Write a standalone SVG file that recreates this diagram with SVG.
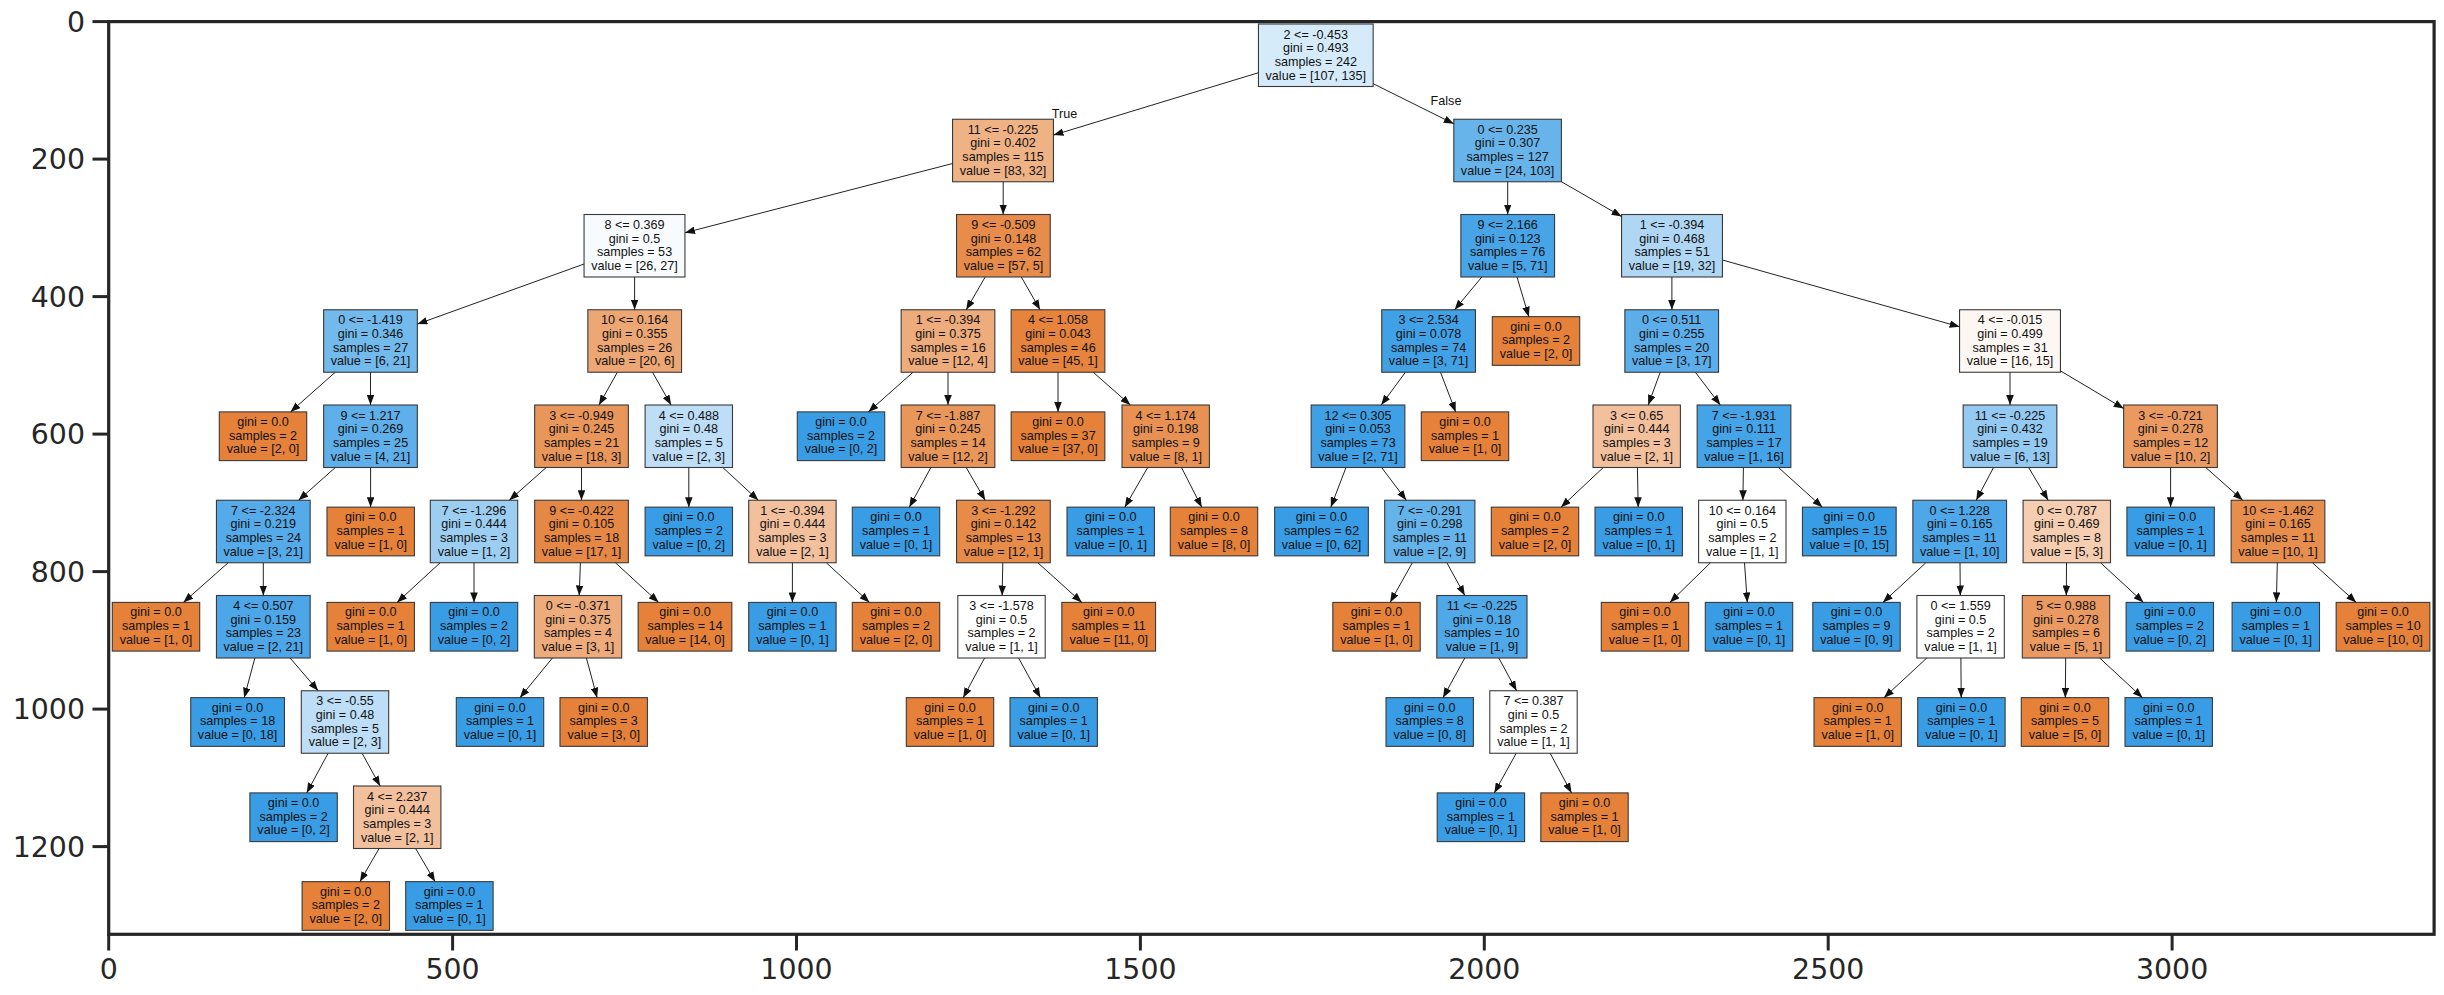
<svg xmlns="http://www.w3.org/2000/svg" width="2444" height="995" viewBox="0 0 2444 995">
<style>
.b{stroke:#3a3a3a;stroke-width:1.1}
.o{fill:#e58139}
.u{fill:#399de5}
.t{font-family:"Liberation Sans",Arial,sans-serif;font-size:12.6px;fill:#111;text-anchor:middle}
.edges line{stroke:#222;stroke-width:1;marker-end:url(#ah)}
.ax{font-family:"DejaVu Sans",sans-serif;font-size:28.4px;fill:#262626}
.tk line{stroke:#262626;stroke-width:3}
</style>
<defs>
<marker id="ah" markerWidth="10" markerHeight="7.6" refX="10" refY="3.8" orient="auto" markerUnits="userSpaceOnUse"><path d="M0,0L10,3.8L0,7.6z" fill="#111"/></marker>
</defs>
<rect width="2444" height="995" fill="#fff"/>
<g id="nodes">
<g id="n0" transform="translate(1315.8,55.25)"><rect class="b" x="-57.35" y="-31.25" width="114.7" height="62.5" fill="#d6ebfa"/><text class="t"><tspan x="0" y="-16.75">2 &lt;= -0.453</tspan><tspan x="0" y="-3.05">gini = 0.493</tspan><tspan x="0" y="10.65">samples = 242</tspan><tspan x="0" y="24.35">value = [107, 135]</tspan></text></g>
<g id="n1" transform="translate(1003,150.5)"><rect class="b" x="-50.45" y="-31.25" width="100.9" height="62.5" fill="#efb285"/><text class="t"><tspan x="0" y="-16.75">11 &lt;= -0.225</tspan><tspan x="0" y="-3.05">gini = 0.402</tspan><tspan x="0" y="10.65">samples = 115</tspan><tspan x="0" y="24.35">value = [83, 32]</tspan></text></g>
<g id="n2" transform="translate(1507.6,150.5)"><rect class="b" x="-53.8" y="-31.25" width="107.6" height="62.5" fill="#67b4eb"/><text class="t"><tspan x="0" y="-16.75">0 &lt;= 0.235</tspan><tspan x="0" y="-3.05">gini = 0.307</tspan><tspan x="0" y="10.65">samples = 127</tspan><tspan x="0" y="24.35">value = [24, 103]</tspan></text></g>
<g id="n3" transform="translate(634.5,245.75)"><rect class="b" x="-50.45" y="-31.25" width="100.9" height="62.5" fill="#f8fbfe"/><text class="t"><tspan x="0" y="-16.75">8 &lt;= 0.369</tspan><tspan x="0" y="-3.05">gini = 0.5</tspan><tspan x="0" y="10.65">samples = 53</tspan><tspan x="0" y="24.35">value = [26, 27]</tspan></text></g>
<g id="n4" transform="translate(1003.4,245.75)"><rect class="b" x="-46.85" y="-31.25" width="93.7" height="62.5" fill="#e78c4a"/><text class="t"><tspan x="0" y="-16.75">9 &lt;= -0.509</tspan><tspan x="0" y="-3.05">gini = 0.148</tspan><tspan x="0" y="10.65">samples = 62</tspan><tspan x="0" y="24.35">value = [57, 5]</tspan></text></g>
<g id="n5" transform="translate(1507.7,245.75)"><rect class="b" x="-46.85" y="-31.25" width="93.7" height="62.5" fill="#47a4e7"/><text class="t"><tspan x="0" y="-16.75">9 &lt;= 2.166</tspan><tspan x="0" y="-3.05">gini = 0.123</tspan><tspan x="0" y="10.65">samples = 76</tspan><tspan x="0" y="24.35">value = [5, 71]</tspan></text></g>
<g id="n6" transform="translate(1672,245.75)"><rect class="b" x="-50.45" y="-31.25" width="100.9" height="62.5" fill="#afd7f4"/><text class="t"><tspan x="0" y="-16.75">1 &lt;= -0.394</tspan><tspan x="0" y="-3.05">gini = 0.468</tspan><tspan x="0" y="10.65">samples = 51</tspan><tspan x="0" y="24.35">value = [19, 32]</tspan></text></g>
<g id="n7" transform="translate(370.5,341)"><rect class="b" x="-46.85" y="-31.25" width="93.7" height="62.5" fill="#72b9ec"/><text class="t"><tspan x="0" y="-16.75">0 &lt;= -1.419</tspan><tspan x="0" y="-3.05">gini = 0.346</tspan><tspan x="0" y="10.65">samples = 27</tspan><tspan x="0" y="24.35">value = [6, 21]</tspan></text></g>
<g id="n8" transform="translate(634.7,341)"><rect class="b" x="-46.85" y="-31.25" width="93.7" height="62.5" fill="#eda774"/><text class="t"><tspan x="0" y="-16.75">10 &lt;= 0.164</tspan><tspan x="0" y="-3.05">gini = 0.355</tspan><tspan x="0" y="10.65">samples = 26</tspan><tspan x="0" y="24.35">value = [20, 6]</tspan></text></g>
<g id="n9" transform="translate(948,341)"><rect class="b" x="-46.85" y="-31.25" width="93.7" height="62.5" fill="#eeab7b"/><text class="t"><tspan x="0" y="-16.75">1 &lt;= -0.394</tspan><tspan x="0" y="-3.05">gini = 0.375</tspan><tspan x="0" y="10.65">samples = 16</tspan><tspan x="0" y="24.35">value = [12, 4]</tspan></text></g>
<g id="n10" transform="translate(1058,341)"><rect class="b" x="-46.85" y="-31.25" width="93.7" height="62.5" fill="#e6843d"/><text class="t"><tspan x="0" y="-16.75">4 &lt;= 1.058</tspan><tspan x="0" y="-3.05">gini = 0.043</tspan><tspan x="0" y="10.65">samples = 46</tspan><tspan x="0" y="24.35">value = [45, 1]</tspan></text></g>
<g id="n11" transform="translate(1428.6,341)"><rect class="b" x="-46.85" y="-31.25" width="93.7" height="62.5" fill="#41a1e6"/><text class="t"><tspan x="0" y="-16.75">3 &lt;= 2.534</tspan><tspan x="0" y="-3.05">gini = 0.078</tspan><tspan x="0" y="10.65">samples = 74</tspan><tspan x="0" y="24.35">value = [3, 71]</tspan></text></g>
<g id="n12" transform="translate(1536,341)"><rect class="b o" x="-43.7" y="-24.35" width="87.4" height="48.7"/><text class="t"><tspan x="0" y="-10.4">gini = 0.0</tspan><tspan x="0" y="3.3">samples = 2</tspan><tspan x="0" y="17">value = [2, 0]</tspan></text></g>
<g id="n13" transform="translate(1671.7,341)"><rect class="b" x="-46.85" y="-31.25" width="93.7" height="62.5" fill="#5caeea"/><text class="t"><tspan x="0" y="-16.75">0 &lt;= 0.511</tspan><tspan x="0" y="-3.05">gini = 0.255</tspan><tspan x="0" y="10.65">samples = 20</tspan><tspan x="0" y="24.35">value = [3, 17]</tspan></text></g>
<g id="n14" transform="translate(2010,341)"><rect class="b" x="-50.45" y="-31.25" width="100.9" height="62.5" fill="#fdf7f3"/><text class="t"><tspan x="0" y="-16.75">4 &lt;= -0.015</tspan><tspan x="0" y="-3.05">gini = 0.499</tspan><tspan x="0" y="10.65">samples = 31</tspan><tspan x="0" y="24.35">value = [16, 15]</tspan></text></g>
<g id="n15" transform="translate(263,436.25)"><rect class="b o" x="-43.7" y="-24.35" width="87.4" height="48.7"/><text class="t"><tspan x="0" y="-10.4">gini = 0.0</tspan><tspan x="0" y="3.3">samples = 2</tspan><tspan x="0" y="17">value = [2, 0]</tspan></text></g>
<g id="n16" transform="translate(370.5,436.25)"><rect class="b" x="-46.85" y="-31.25" width="93.7" height="62.5" fill="#5fb0ea"/><text class="t"><tspan x="0" y="-16.75">9 &lt;= 1.217</tspan><tspan x="0" y="-3.05">gini = 0.269</tspan><tspan x="0" y="10.65">samples = 25</tspan><tspan x="0" y="24.35">value = [4, 21]</tspan></text></g>
<g id="n17" transform="translate(581.5,436.25)"><rect class="b" x="-46.85" y="-31.25" width="93.7" height="62.5" fill="#e9965a"/><text class="t"><tspan x="0" y="-16.75">3 &lt;= -0.949</tspan><tspan x="0" y="-3.05">gini = 0.245</tspan><tspan x="0" y="10.65">samples = 21</tspan><tspan x="0" y="24.35">value = [18, 3]</tspan></text></g>
<g id="n18" transform="translate(688.8,436.25)"><rect class="b" x="-43.7" y="-31.25" width="87.4" height="62.5" fill="#bddef6"/><text class="t"><tspan x="0" y="-16.75">4 &lt;= 0.488</tspan><tspan x="0" y="-3.05">gini = 0.48</tspan><tspan x="0" y="10.65">samples = 5</tspan><tspan x="0" y="24.35">value = [2, 3]</tspan></text></g>
<g id="n19" transform="translate(841,436.25)"><rect class="b u" x="-43.7" y="-24.35" width="87.4" height="48.7"/><text class="t"><tspan x="0" y="-10.4">gini = 0.0</tspan><tspan x="0" y="3.3">samples = 2</tspan><tspan x="0" y="17">value = [0, 2]</tspan></text></g>
<g id="n20" transform="translate(948,436.25)"><rect class="b" x="-46.85" y="-31.25" width="93.7" height="62.5" fill="#e9965a"/><text class="t"><tspan x="0" y="-16.75">7 &lt;= -1.887</tspan><tspan x="0" y="-3.05">gini = 0.245</tspan><tspan x="0" y="10.65">samples = 14</tspan><tspan x="0" y="24.35">value = [12, 2]</tspan></text></g>
<g id="n21" transform="translate(1058,436.25)"><rect class="b o" x="-46.85" y="-24.35" width="93.7" height="48.7"/><text class="t"><tspan x="0" y="-10.4">gini = 0.0</tspan><tspan x="0" y="3.3">samples = 37</tspan><tspan x="0" y="17">value = [37, 0]</tspan></text></g>
<g id="n22" transform="translate(1165.7,436.25)"><rect class="b" x="-43.7" y="-31.25" width="87.4" height="62.5" fill="#e89152"/><text class="t"><tspan x="0" y="-16.75">4 &lt;= 1.174</tspan><tspan x="0" y="-3.05">gini = 0.198</tspan><tspan x="0" y="10.65">samples = 9</tspan><tspan x="0" y="24.35">value = [8, 1]</tspan></text></g>
<g id="n23" transform="translate(1358,436.25)"><rect class="b" x="-46.85" y="-31.25" width="93.7" height="62.5" fill="#3fa0e6"/><text class="t"><tspan x="0" y="-16.75">12 &lt;= 0.305</tspan><tspan x="0" y="-3.05">gini = 0.053</tspan><tspan x="0" y="10.65">samples = 73</tspan><tspan x="0" y="24.35">value = [2, 71]</tspan></text></g>
<g id="n24" transform="translate(1465,436.25)"><rect class="b o" x="-43.7" y="-24.35" width="87.4" height="48.7"/><text class="t"><tspan x="0" y="-10.4">gini = 0.0</tspan><tspan x="0" y="3.3">samples = 1</tspan><tspan x="0" y="17">value = [1, 0]</tspan></text></g>
<g id="n25" transform="translate(1636.7,436.25)"><rect class="b" x="-43.7" y="-31.25" width="87.4" height="62.5" fill="#f2c09c"/><text class="t"><tspan x="0" y="-16.75">3 &lt;= 0.65</tspan><tspan x="0" y="-3.05">gini = 0.444</tspan><tspan x="0" y="10.65">samples = 3</tspan><tspan x="0" y="24.35">value = [2, 1]</tspan></text></g>
<g id="n26" transform="translate(1744,436.25)"><rect class="b" x="-46.85" y="-31.25" width="93.7" height="62.5" fill="#45a3e7"/><text class="t"><tspan x="0" y="-16.75">7 &lt;= -1.931</tspan><tspan x="0" y="-3.05">gini = 0.111</tspan><tspan x="0" y="10.65">samples = 17</tspan><tspan x="0" y="24.35">value = [1, 16]</tspan></text></g>
<g id="n27" transform="translate(2010,436.25)"><rect class="b" x="-46.85" y="-31.25" width="93.7" height="62.5" fill="#94caf1"/><text class="t"><tspan x="0" y="-16.75">11 &lt;= -0.225</tspan><tspan x="0" y="-3.05">gini = 0.432</tspan><tspan x="0" y="10.65">samples = 19</tspan><tspan x="0" y="24.35">value = [6, 13]</tspan></text></g>
<g id="n28" transform="translate(2170.5,436.25)"><rect class="b" x="-46.85" y="-31.25" width="93.7" height="62.5" fill="#ea9a61"/><text class="t"><tspan x="0" y="-16.75">3 &lt;= -0.721</tspan><tspan x="0" y="-3.05">gini = 0.278</tspan><tspan x="0" y="10.65">samples = 12</tspan><tspan x="0" y="24.35">value = [10, 2]</tspan></text></g>
<g id="n29" transform="translate(263.3,531.5)"><rect class="b" x="-46.85" y="-31.25" width="93.7" height="62.5" fill="#55abe9"/><text class="t"><tspan x="0" y="-16.75">7 &lt;= -2.324</tspan><tspan x="0" y="-3.05">gini = 0.219</tspan><tspan x="0" y="10.65">samples = 24</tspan><tspan x="0" y="24.35">value = [3, 21]</tspan></text></g>
<g id="n30" transform="translate(370.7,531.5)"><rect class="b o" x="-43.7" y="-24.35" width="87.4" height="48.7"/><text class="t"><tspan x="0" y="-10.4">gini = 0.0</tspan><tspan x="0" y="3.3">samples = 1</tspan><tspan x="0" y="17">value = [1, 0]</tspan></text></g>
<g id="n31" transform="translate(474,531.5)"><rect class="b" x="-43.7" y="-31.25" width="87.4" height="62.5" fill="#9ccef2"/><text class="t"><tspan x="0" y="-16.75">7 &lt;= -1.296</tspan><tspan x="0" y="-3.05">gini = 0.444</tspan><tspan x="0" y="10.65">samples = 3</tspan><tspan x="0" y="24.35">value = [1, 2]</tspan></text></g>
<g id="n32" transform="translate(581.5,531.5)"><rect class="b" x="-46.85" y="-31.25" width="93.7" height="62.5" fill="#e68845"/><text class="t"><tspan x="0" y="-16.75">9 &lt;= -0.422</tspan><tspan x="0" y="-3.05">gini = 0.105</tspan><tspan x="0" y="10.65">samples = 18</tspan><tspan x="0" y="24.35">value = [17, 1]</tspan></text></g>
<g id="n33" transform="translate(688.8,531.5)"><rect class="b u" x="-43.7" y="-24.35" width="87.4" height="48.7"/><text class="t"><tspan x="0" y="-10.4">gini = 0.0</tspan><tspan x="0" y="3.3">samples = 2</tspan><tspan x="0" y="17">value = [0, 2]</tspan></text></g>
<g id="n34" transform="translate(792.4,531.5)"><rect class="b" x="-43.7" y="-31.25" width="87.4" height="62.5" fill="#f2c09c"/><text class="t"><tspan x="0" y="-16.75">1 &lt;= -0.394</tspan><tspan x="0" y="-3.05">gini = 0.444</tspan><tspan x="0" y="10.65">samples = 3</tspan><tspan x="0" y="24.35">value = [2, 1]</tspan></text></g>
<g id="n35" transform="translate(896,531.5)"><rect class="b u" x="-43.7" y="-24.35" width="87.4" height="48.7"/><text class="t"><tspan x="0" y="-10.4">gini = 0.0</tspan><tspan x="0" y="3.3">samples = 1</tspan><tspan x="0" y="17">value = [0, 1]</tspan></text></g>
<g id="n36" transform="translate(1003.4,531.5)"><rect class="b" x="-46.85" y="-31.25" width="93.7" height="62.5" fill="#e78b49"/><text class="t"><tspan x="0" y="-16.75">3 &lt;= -1.292</tspan><tspan x="0" y="-3.05">gini = 0.142</tspan><tspan x="0" y="10.65">samples = 13</tspan><tspan x="0" y="24.35">value = [12, 1]</tspan></text></g>
<g id="n37" transform="translate(1110.7,531.5)"><rect class="b u" x="-43.7" y="-24.35" width="87.4" height="48.7"/><text class="t"><tspan x="0" y="-10.4">gini = 0.0</tspan><tspan x="0" y="3.3">samples = 1</tspan><tspan x="0" y="17">value = [0, 1]</tspan></text></g>
<g id="n38" transform="translate(1214,531.5)"><rect class="b o" x="-43.7" y="-24.35" width="87.4" height="48.7"/><text class="t"><tspan x="0" y="-10.4">gini = 0.0</tspan><tspan x="0" y="3.3">samples = 8</tspan><tspan x="0" y="17">value = [8, 0]</tspan></text></g>
<g id="n39" transform="translate(1321.5,531.5)"><rect class="b u" x="-46.85" y="-24.35" width="93.7" height="48.7"/><text class="t"><tspan x="0" y="-10.4">gini = 0.0</tspan><tspan x="0" y="3.3">samples = 62</tspan><tspan x="0" y="17">value = [0, 62]</tspan></text></g>
<g id="n40" transform="translate(1429.8,531.5)"><rect class="b" x="-45.1" y="-31.25" width="90.2" height="62.5" fill="#65b3eb"/><text class="t"><tspan x="0" y="-16.75">7 &lt;= -0.291</tspan><tspan x="0" y="-3.05">gini = 0.298</tspan><tspan x="0" y="10.65">samples = 11</tspan><tspan x="0" y="24.35">value = [2, 9]</tspan></text></g>
<g id="n41" transform="translate(1535,531.5)"><rect class="b o" x="-43.7" y="-24.35" width="87.4" height="48.7"/><text class="t"><tspan x="0" y="-10.4">gini = 0.0</tspan><tspan x="0" y="3.3">samples = 2</tspan><tspan x="0" y="17">value = [2, 0]</tspan></text></g>
<g id="n42" transform="translate(1638.7,531.5)"><rect class="b u" x="-43.7" y="-24.35" width="87.4" height="48.7"/><text class="t"><tspan x="0" y="-10.4">gini = 0.0</tspan><tspan x="0" y="3.3">samples = 1</tspan><tspan x="0" y="17">value = [0, 1]</tspan></text></g>
<g id="n43" transform="translate(1742.3,531.5)"><rect class="b" x="-43.7" y="-31.25" width="87.4" height="62.5" fill="#ffffff"/><text class="t"><tspan x="0" y="-16.75">10 &lt;= 0.164</tspan><tspan x="0" y="-3.05">gini = 0.5</tspan><tspan x="0" y="10.65">samples = 2</tspan><tspan x="0" y="24.35">value = [1, 1]</tspan></text></g>
<g id="n44" transform="translate(1849.3,531.5)"><rect class="b u" x="-46.85" y="-24.35" width="93.7" height="48.7"/><text class="t"><tspan x="0" y="-10.4">gini = 0.0</tspan><tspan x="0" y="3.3">samples = 15</tspan><tspan x="0" y="17">value = [0, 15]</tspan></text></g>
<g id="n45" transform="translate(1959.7,531.5)"><rect class="b" x="-46.85" y="-31.25" width="93.7" height="62.5" fill="#4da7e8"/><text class="t"><tspan x="0" y="-16.75">0 &lt;= 1.228</tspan><tspan x="0" y="-3.05">gini = 0.165</tspan><tspan x="0" y="10.65">samples = 11</tspan><tspan x="0" y="24.35">value = [1, 10]</tspan></text></g>
<g id="n46" transform="translate(2066.8,531.5)"><rect class="b" x="-43.7" y="-31.25" width="87.4" height="62.5" fill="#f5cdb0"/><text class="t"><tspan x="0" y="-16.75">0 &lt;= 0.787</tspan><tspan x="0" y="-3.05">gini = 0.469</tspan><tspan x="0" y="10.65">samples = 8</tspan><tspan x="0" y="24.35">value = [5, 3]</tspan></text></g>
<g id="n47" transform="translate(2170.6,531.5)"><rect class="b u" x="-43.7" y="-24.35" width="87.4" height="48.7"/><text class="t"><tspan x="0" y="-10.4">gini = 0.0</tspan><tspan x="0" y="3.3">samples = 1</tspan><tspan x="0" y="17">value = [0, 1]</tspan></text></g>
<g id="n48" transform="translate(2278,531.5)"><rect class="b" x="-46.85" y="-31.25" width="93.7" height="62.5" fill="#e88e4d"/><text class="t"><tspan x="0" y="-16.75">10 &lt;= -1.462</tspan><tspan x="0" y="-3.05">gini = 0.165</tspan><tspan x="0" y="10.65">samples = 11</tspan><tspan x="0" y="24.35">value = [10, 1]</tspan></text></g>
<g id="n49" transform="translate(156,626.75)"><rect class="b o" x="-43.7" y="-24.35" width="87.4" height="48.7"/><text class="t"><tspan x="0" y="-10.4">gini = 0.0</tspan><tspan x="0" y="3.3">samples = 1</tspan><tspan x="0" y="17">value = [1, 0]</tspan></text></g>
<g id="n50" transform="translate(263.3,626.75)"><rect class="b" x="-46.85" y="-31.25" width="93.7" height="62.5" fill="#4ca6e7"/><text class="t"><tspan x="0" y="-16.75">4 &lt;= 0.507</tspan><tspan x="0" y="-3.05">gini = 0.159</tspan><tspan x="0" y="10.65">samples = 23</tspan><tspan x="0" y="24.35">value = [2, 21]</tspan></text></g>
<g id="n51" transform="translate(370.7,626.75)"><rect class="b o" x="-43.7" y="-24.35" width="87.4" height="48.7"/><text class="t"><tspan x="0" y="-10.4">gini = 0.0</tspan><tspan x="0" y="3.3">samples = 1</tspan><tspan x="0" y="17">value = [1, 0]</tspan></text></g>
<g id="n52" transform="translate(474,626.75)"><rect class="b u" x="-43.7" y="-24.35" width="87.4" height="48.7"/><text class="t"><tspan x="0" y="-10.4">gini = 0.0</tspan><tspan x="0" y="3.3">samples = 2</tspan><tspan x="0" y="17">value = [0, 2]</tspan></text></g>
<g id="n53" transform="translate(578,626.75)"><rect class="b" x="-43.7" y="-31.25" width="87.4" height="62.5" fill="#eeab7b"/><text class="t"><tspan x="0" y="-16.75">0 &lt;= -0.371</tspan><tspan x="0" y="-3.05">gini = 0.375</tspan><tspan x="0" y="10.65">samples = 4</tspan><tspan x="0" y="24.35">value = [3, 1]</tspan></text></g>
<g id="n54" transform="translate(685,626.75)"><rect class="b o" x="-46.85" y="-24.35" width="93.7" height="48.7"/><text class="t"><tspan x="0" y="-10.4">gini = 0.0</tspan><tspan x="0" y="3.3">samples = 14</tspan><tspan x="0" y="17">value = [14, 0]</tspan></text></g>
<g id="n55" transform="translate(792.4,626.75)"><rect class="b u" x="-43.7" y="-24.35" width="87.4" height="48.7"/><text class="t"><tspan x="0" y="-10.4">gini = 0.0</tspan><tspan x="0" y="3.3">samples = 1</tspan><tspan x="0" y="17">value = [0, 1]</tspan></text></g>
<g id="n56" transform="translate(896,626.75)"><rect class="b o" x="-43.7" y="-24.35" width="87.4" height="48.7"/><text class="t"><tspan x="0" y="-10.4">gini = 0.0</tspan><tspan x="0" y="3.3">samples = 2</tspan><tspan x="0" y="17">value = [2, 0]</tspan></text></g>
<g id="n57" transform="translate(1001.5,626.75)"><rect class="b" x="-43.7" y="-31.25" width="87.4" height="62.5" fill="#ffffff"/><text class="t"><tspan x="0" y="-16.75">3 &lt;= -1.578</tspan><tspan x="0" y="-3.05">gini = 0.5</tspan><tspan x="0" y="10.65">samples = 2</tspan><tspan x="0" y="24.35">value = [1, 1]</tspan></text></g>
<g id="n58" transform="translate(1108.7,626.75)"><rect class="b o" x="-46.85" y="-24.35" width="93.7" height="48.7"/><text class="t"><tspan x="0" y="-10.4">gini = 0.0</tspan><tspan x="0" y="3.3">samples = 11</tspan><tspan x="0" y="17">value = [11, 0]</tspan></text></g>
<g id="n59" transform="translate(1376.5,626.75)"><rect class="b o" x="-43.7" y="-24.35" width="87.4" height="48.7"/><text class="t"><tspan x="0" y="-10.4">gini = 0.0</tspan><tspan x="0" y="3.3">samples = 1</tspan><tspan x="0" y="17">value = [1, 0]</tspan></text></g>
<g id="n60" transform="translate(1481.9,626.75)"><rect class="b" x="-45.1" y="-31.25" width="90.2" height="62.5" fill="#4fa8e8"/><text class="t"><tspan x="0" y="-16.75">11 &lt;= -0.225</tspan><tspan x="0" y="-3.05">gini = 0.18</tspan><tspan x="0" y="10.65">samples = 10</tspan><tspan x="0" y="24.35">value = [1, 9]</tspan></text></g>
<g id="n61" transform="translate(1645,626.75)"><rect class="b o" x="-43.7" y="-24.35" width="87.4" height="48.7"/><text class="t"><tspan x="0" y="-10.4">gini = 0.0</tspan><tspan x="0" y="3.3">samples = 1</tspan><tspan x="0" y="17">value = [1, 0]</tspan></text></g>
<g id="n62" transform="translate(1749,626.75)"><rect class="b u" x="-43.7" y="-24.35" width="87.4" height="48.7"/><text class="t"><tspan x="0" y="-10.4">gini = 0.0</tspan><tspan x="0" y="3.3">samples = 1</tspan><tspan x="0" y="17">value = [0, 1]</tspan></text></g>
<g id="n63" transform="translate(1856.5,626.75)"><rect class="b u" x="-43.7" y="-24.35" width="87.4" height="48.7"/><text class="t"><tspan x="0" y="-10.4">gini = 0.0</tspan><tspan x="0" y="3.3">samples = 9</tspan><tspan x="0" y="17">value = [0, 9]</tspan></text></g>
<g id="n64" transform="translate(1960.6,626.75)"><rect class="b" x="-43.7" y="-31.25" width="87.4" height="62.5" fill="#ffffff"/><text class="t"><tspan x="0" y="-16.75">0 &lt;= 1.559</tspan><tspan x="0" y="-3.05">gini = 0.5</tspan><tspan x="0" y="10.65">samples = 2</tspan><tspan x="0" y="24.35">value = [1, 1]</tspan></text></g>
<g id="n65" transform="translate(2066,626.75)"><rect class="b" x="-43.7" y="-31.25" width="87.4" height="62.5" fill="#ea9a61"/><text class="t"><tspan x="0" y="-16.75">5 &lt;= 0.988</tspan><tspan x="0" y="-3.05">gini = 0.278</tspan><tspan x="0" y="10.65">samples = 6</tspan><tspan x="0" y="24.35">value = [5, 1]</tspan></text></g>
<g id="n66" transform="translate(2169.8,626.75)"><rect class="b u" x="-43.7" y="-24.35" width="87.4" height="48.7"/><text class="t"><tspan x="0" y="-10.4">gini = 0.0</tspan><tspan x="0" y="3.3">samples = 2</tspan><tspan x="0" y="17">value = [0, 2]</tspan></text></g>
<g id="n67" transform="translate(2275.8,626.75)"><rect class="b u" x="-43.7" y="-24.35" width="87.4" height="48.7"/><text class="t"><tspan x="0" y="-10.4">gini = 0.0</tspan><tspan x="0" y="3.3">samples = 1</tspan><tspan x="0" y="17">value = [0, 1]</tspan></text></g>
<g id="n68" transform="translate(2383,626.75)"><rect class="b o" x="-46.85" y="-24.35" width="93.7" height="48.7"/><text class="t"><tspan x="0" y="-10.4">gini = 0.0</tspan><tspan x="0" y="3.3">samples = 10</tspan><tspan x="0" y="17">value = [10, 0]</tspan></text></g>
<g id="n69" transform="translate(237.6,722)"><rect class="b u" x="-46.85" y="-24.35" width="93.7" height="48.7"/><text class="t"><tspan x="0" y="-10.4">gini = 0.0</tspan><tspan x="0" y="3.3">samples = 18</tspan><tspan x="0" y="17">value = [0, 18]</tspan></text></g>
<g id="n70" transform="translate(345,722)"><rect class="b" x="-43.7" y="-31.25" width="87.4" height="62.5" fill="#bddef6"/><text class="t"><tspan x="0" y="-16.75">3 &lt;= -0.55</tspan><tspan x="0" y="-3.05">gini = 0.48</tspan><tspan x="0" y="10.65">samples = 5</tspan><tspan x="0" y="24.35">value = [2, 3]</tspan></text></g>
<g id="n71" transform="translate(500,722)"><rect class="b u" x="-43.7" y="-24.35" width="87.4" height="48.7"/><text class="t"><tspan x="0" y="-10.4">gini = 0.0</tspan><tspan x="0" y="3.3">samples = 1</tspan><tspan x="0" y="17">value = [0, 1]</tspan></text></g>
<g id="n72" transform="translate(603.7,722)"><rect class="b o" x="-43.7" y="-24.35" width="87.4" height="48.7"/><text class="t"><tspan x="0" y="-10.4">gini = 0.0</tspan><tspan x="0" y="3.3">samples = 3</tspan><tspan x="0" y="17">value = [3, 0]</tspan></text></g>
<g id="n73" transform="translate(950,722)"><rect class="b o" x="-43.7" y="-24.35" width="87.4" height="48.7"/><text class="t"><tspan x="0" y="-10.4">gini = 0.0</tspan><tspan x="0" y="3.3">samples = 1</tspan><tspan x="0" y="17">value = [1, 0]</tspan></text></g>
<g id="n74" transform="translate(1053.7,722)"><rect class="b u" x="-43.7" y="-24.35" width="87.4" height="48.7"/><text class="t"><tspan x="0" y="-10.4">gini = 0.0</tspan><tspan x="0" y="3.3">samples = 1</tspan><tspan x="0" y="17">value = [0, 1]</tspan></text></g>
<g id="n75" transform="translate(1429.7,722)"><rect class="b u" x="-43.7" y="-24.35" width="87.4" height="48.7"/><text class="t"><tspan x="0" y="-10.4">gini = 0.0</tspan><tspan x="0" y="3.3">samples = 8</tspan><tspan x="0" y="17">value = [0, 8]</tspan></text></g>
<g id="n76" transform="translate(1533.5,722)"><rect class="b" x="-43.7" y="-31.25" width="87.4" height="62.5" fill="#ffffff"/><text class="t"><tspan x="0" y="-16.75">7 &lt;= 0.387</tspan><tspan x="0" y="-3.05">gini = 0.5</tspan><tspan x="0" y="10.65">samples = 2</tspan><tspan x="0" y="24.35">value = [1, 1]</tspan></text></g>
<g id="n77" transform="translate(1857.7,722)"><rect class="b o" x="-43.7" y="-24.35" width="87.4" height="48.7"/><text class="t"><tspan x="0" y="-10.4">gini = 0.0</tspan><tspan x="0" y="3.3">samples = 1</tspan><tspan x="0" y="17">value = [1, 0]</tspan></text></g>
<g id="n78" transform="translate(1961.4,722)"><rect class="b u" x="-43.7" y="-24.35" width="87.4" height="48.7"/><text class="t"><tspan x="0" y="-10.4">gini = 0.0</tspan><tspan x="0" y="3.3">samples = 1</tspan><tspan x="0" y="17">value = [0, 1]</tspan></text></g>
<g id="n79" transform="translate(2065,722)"><rect class="b o" x="-43.7" y="-24.35" width="87.4" height="48.7"/><text class="t"><tspan x="0" y="-10.4">gini = 0.0</tspan><tspan x="0" y="3.3">samples = 5</tspan><tspan x="0" y="17">value = [5, 0]</tspan></text></g>
<g id="n80" transform="translate(2168.7,722)"><rect class="b u" x="-43.7" y="-24.35" width="87.4" height="48.7"/><text class="t"><tspan x="0" y="-10.4">gini = 0.0</tspan><tspan x="0" y="3.3">samples = 1</tspan><tspan x="0" y="17">value = [0, 1]</tspan></text></g>
<g id="n81" transform="translate(293.6,817.25)"><rect class="b u" x="-43.7" y="-24.35" width="87.4" height="48.7"/><text class="t"><tspan x="0" y="-10.4">gini = 0.0</tspan><tspan x="0" y="3.3">samples = 2</tspan><tspan x="0" y="17">value = [0, 2]</tspan></text></g>
<g id="n82" transform="translate(397.2,817.25)"><rect class="b" x="-43.7" y="-31.25" width="87.4" height="62.5" fill="#f2c09c"/><text class="t"><tspan x="0" y="-16.75">4 &lt;= 2.237</tspan><tspan x="0" y="-3.05">gini = 0.444</tspan><tspan x="0" y="10.65">samples = 3</tspan><tspan x="0" y="24.35">value = [2, 1]</tspan></text></g>
<g id="n83" transform="translate(1480.9,817.25)"><rect class="b u" x="-43.7" y="-24.35" width="87.4" height="48.7"/><text class="t"><tspan x="0" y="-10.4">gini = 0.0</tspan><tspan x="0" y="3.3">samples = 1</tspan><tspan x="0" y="17">value = [0, 1]</tspan></text></g>
<g id="n84" transform="translate(1584.5,817.25)"><rect class="b o" x="-43.7" y="-24.35" width="87.4" height="48.7"/><text class="t"><tspan x="0" y="-10.4">gini = 0.0</tspan><tspan x="0" y="3.3">samples = 1</tspan><tspan x="0" y="17">value = [1, 0]</tspan></text></g>
<g id="n85" transform="translate(345.8,906)"><rect class="b o" x="-43.7" y="-24.35" width="87.4" height="48.7"/><text class="t"><tspan x="0" y="-10.4">gini = 0.0</tspan><tspan x="0" y="3.3">samples = 2</tspan><tspan x="0" y="17">value = [2, 0]</tspan></text></g>
<g id="n86" transform="translate(449.4,906)"><rect class="b u" x="-43.7" y="-24.35" width="87.4" height="48.7"/><text class="t"><tspan x="0" y="-10.4">gini = 0.0</tspan><tspan x="0" y="3.3">samples = 1</tspan><tspan x="0" y="17">value = [0, 1]</tspan></text></g>
</g>
<g id="connectors" class="edges">
<line x1="1258.5" y1="72.7" x2="1053.5" y2="135.1"/>
<line x1="1373.2" y1="83.7" x2="1453.8" y2="123.8"/>
<line x1="952.6" y1="163.5" x2="685" y2="232.7"/>
<line x1="1003.2" y1="181.8" x2="1003.2" y2="214.5"/>
<line x1="584.1" y1="264" x2="417.4" y2="324.1"/>
<line x1="634.6" y1="277" x2="634.6" y2="309.8"/>
<line x1="335.2" y1="372.3" x2="290.5" y2="411.9"/>
<line x1="370.5" y1="372.3" x2="370.5" y2="405"/>
<line x1="617.3" y1="372.3" x2="599" y2="405"/>
<line x1="652.5" y1="372.3" x2="671.1" y2="405"/>
<line x1="985.2" y1="277" x2="966.2" y2="309.8"/>
<line x1="1021.3" y1="277" x2="1040.1" y2="309.8"/>
<line x1="1507.7" y1="181.8" x2="1507.7" y2="214.5"/>
<line x1="1561.4" y1="181.7" x2="1621.6" y2="216.5"/>
<line x1="1481.8" y1="277" x2="1454.6" y2="309.8"/>
<line x1="1517" y1="277" x2="1528.8" y2="316.7"/>
<line x1="1671.9" y1="277" x2="1671.9" y2="309.8"/>
<line x1="1722.5" y1="260" x2="1959.6" y2="326.8"/>
<line x1="912.9" y1="372.3" x2="868.4" y2="411.9"/>
<line x1="948" y1="372.3" x2="948" y2="405"/>
<line x1="1058" y1="372.3" x2="1058" y2="411.9"/>
<line x1="1093.3" y1="372.3" x2="1130.4" y2="405"/>
<line x1="1405.4" y1="372.3" x2="1381.2" y2="405"/>
<line x1="1440.5" y1="372.3" x2="1455.7" y2="411.9"/>
<line x1="1660.2" y1="372.3" x2="1648.2" y2="405"/>
<line x1="1695.4" y1="372.3" x2="1720.3" y2="405"/>
<line x1="2010" y1="372.3" x2="2010" y2="405"/>
<line x1="2060.5" y1="370.9" x2="2123.7" y2="408.5"/>
<line x1="335.3" y1="467.5" x2="298.5" y2="500.3"/>
<line x1="370.6" y1="467.5" x2="370.6" y2="507.2"/>
<line x1="546.2" y1="467.5" x2="509.3" y2="500.3"/>
<line x1="581.5" y1="467.5" x2="581.5" y2="500.3"/>
<line x1="688.8" y1="467.5" x2="688.8" y2="507.2"/>
<line x1="722.8" y1="467.5" x2="758.4" y2="500.3"/>
<line x1="930.9" y1="467.5" x2="909.3" y2="507.2"/>
<line x1="966.2" y1="467.5" x2="985.2" y2="500.3"/>
<line x1="1147.7" y1="467.5" x2="1124.8" y2="507.2"/>
<line x1="1181.5" y1="467.5" x2="1201.7" y2="507.2"/>
<line x1="1346" y1="467.5" x2="1330.8" y2="507.2"/>
<line x1="1381.6" y1="467.5" x2="1406.3" y2="500.3"/>
<line x1="1603.3" y1="467.5" x2="1561" y2="507.2"/>
<line x1="1637.4" y1="467.5" x2="1638.2" y2="507.2"/>
<line x1="1743.4" y1="467.5" x2="1742.9" y2="500.3"/>
<line x1="1778.5" y1="467.5" x2="1822.4" y2="507.2"/>
<line x1="1993.5" y1="467.5" x2="1976.2" y2="500.3"/>
<line x1="2028.6" y1="467.5" x2="2048.2" y2="500.3"/>
<line x1="2170.6" y1="467.5" x2="2170.6" y2="507.2"/>
<line x1="2205.8" y1="467.5" x2="2242.7" y2="500.3"/>
<line x1="228.1" y1="562.8" x2="183.4" y2="602.4"/>
<line x1="263.3" y1="562.8" x2="263.3" y2="595.5"/>
<line x1="440.1" y1="562.8" x2="397.1" y2="602.4"/>
<line x1="474" y1="562.8" x2="474" y2="602.4"/>
<line x1="580.4" y1="562.8" x2="579.2" y2="595.5"/>
<line x1="615.5" y1="562.8" x2="658.6" y2="602.4"/>
<line x1="792.4" y1="562.8" x2="792.4" y2="602.4"/>
<line x1="826.4" y1="562.8" x2="869.5" y2="602.4"/>
<line x1="1002.8" y1="562.8" x2="1002.1" y2="595.5"/>
<line x1="1037.9" y1="562.8" x2="1081.8" y2="602.4"/>
<line x1="1412.3" y1="562.8" x2="1390.1" y2="602.4"/>
<line x1="1446.9" y1="562.8" x2="1464.8" y2="595.5"/>
<line x1="1710.4" y1="562.8" x2="1669.9" y2="602.4"/>
<line x1="1744.5" y1="562.8" x2="1747.3" y2="602.4"/>
<line x1="1925.8" y1="562.8" x2="1882.9" y2="602.4"/>
<line x1="1960" y1="562.8" x2="1960.3" y2="595.5"/>
<line x1="2066.5" y1="562.8" x2="2066.3" y2="595.5"/>
<line x1="2100.6" y1="562.8" x2="2143.5" y2="602.4"/>
<line x1="2277.3" y1="562.8" x2="2276.4" y2="602.4"/>
<line x1="2312.5" y1="562.8" x2="2356.2" y2="602.4"/>
<line x1="254.9" y1="658" x2="244.2" y2="697.7"/>
<line x1="290.1" y1="658" x2="318.2" y2="690.8"/>
<line x1="552.4" y1="658" x2="519.9" y2="697.7"/>
<line x1="586.4" y1="658" x2="597.1" y2="697.7"/>
<line x1="984.6" y1="658" x2="963.2" y2="697.7"/>
<line x1="1018.6" y1="658" x2="1040.4" y2="697.7"/>
<line x1="1464.8" y1="658" x2="1443" y2="697.7"/>
<line x1="1498.8" y1="658" x2="1516.6" y2="690.8"/>
<line x1="1926.8" y1="658" x2="1884" y2="697.7"/>
<line x1="1960.9" y1="658" x2="1961.2" y2="697.7"/>
<line x1="2065.7" y1="658" x2="2065.3" y2="697.7"/>
<line x1="2099.7" y1="658" x2="2142.5" y2="697.7"/>
<line x1="328.1" y1="753.3" x2="306.7" y2="792.9"/>
<line x1="362.1" y1="753.3" x2="380.1" y2="786"/>
<line x1="1516.2" y1="753.3" x2="1494.3" y2="792.9"/>
<line x1="1550.2" y1="753.3" x2="1571.5" y2="792.9"/>
<line x1="379.1" y1="848.5" x2="359.9" y2="881.7"/>
<line x1="415.6" y1="848.5" x2="435.1" y2="881.7"/>
</g>
<g id="edge-labels">
<text class="t" x="1064.5" y="117.5">True</text>
<text class="t" x="1446" y="104.5">False</text>
</g>
<g id="axes">
<rect x="108.7" y="21.6" width="2325.4" height="912.7" fill="none" stroke="#262626" stroke-width="3.2"/>
<g class="tk">
<line x1="92.5" y1="21.6" x2="108.7" y2="21.6"/>
<line x1="92.5" y1="159.1" x2="108.7" y2="159.1"/>
<line x1="92.5" y1="296.6" x2="108.7" y2="296.6"/>
<line x1="92.5" y1="434.1" x2="108.7" y2="434.1"/>
<line x1="92.5" y1="571.6" x2="108.7" y2="571.6"/>
<line x1="92.5" y1="709.1" x2="108.7" y2="709.1"/>
<line x1="92.5" y1="846.6" x2="108.7" y2="846.6"/>
<line x1="108.7" y1="934.3" x2="108.7" y2="950.5"/>
<line x1="452.6" y1="934.3" x2="452.6" y2="950.5"/>
<line x1="796.5" y1="934.3" x2="796.5" y2="950.5"/>
<line x1="1140.4" y1="934.3" x2="1140.4" y2="950.5"/>
<line x1="1484.3" y1="934.3" x2="1484.3" y2="950.5"/>
<line x1="1828.2" y1="934.3" x2="1828.2" y2="950.5"/>
<line x1="2172.1" y1="934.3" x2="2172.1" y2="950.5"/>
</g>
<g class="ax" text-anchor="end">
<text x="85" y="31.9">0</text>
<text x="85" y="169.4">200</text>
<text x="85" y="306.9">400</text>
<text x="85" y="444.4">600</text>
<text x="85" y="581.9">800</text>
<text x="85" y="719.4">1000</text>
<text x="85" y="856.9">1200</text>
</g>
<g class="ax" text-anchor="middle">
<text x="108.7" y="979">0</text>
<text x="452.6" y="979">500</text>
<text x="796.5" y="979">1000</text>
<text x="1140.4" y="979">1500</text>
<text x="1484.3" y="979">2000</text>
<text x="1828.2" y="979">2500</text>
<text x="2172.1" y="979">3000</text>
</g>
</g>
</svg>
